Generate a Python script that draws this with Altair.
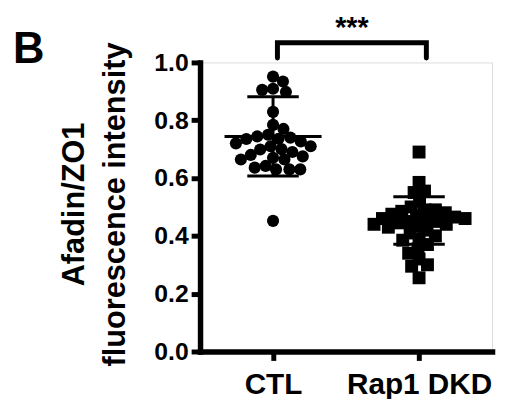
import altair as alt
import pandas as pd

# ---------------- data ----------------
categories = ["CTL", "Rap1 DKD"]
ctl_values = [0.951, 0.934, 0.909, 0.905, 0.898, 0.829, 0.784, 0.770, 0.750,
              0.744, 0.740, 0.736, 0.735, 0.727, 0.720, 0.710, 0.710, 0.700,
              0.699, 0.690, 0.680, 0.675, 0.670, 0.664, 0.664, 0.642, 0.636,
              0.630, 0.630, 0.630, 0.452]
dkd_values = [0.690, 0.585, 0.555, 0.550, 0.520, 0.500, 0.490, 0.490, 0.485,
              0.480, 0.475, 0.470, 0.465, 0.460, 0.460, 0.455, 0.450, 0.450,
              0.445, 0.440, 0.440, 0.435, 0.430, 0.420, 0.410, 0.400, 0.390,
              0.385, 0.370, 0.355, 0.340, 0.320, 0.300, 0.295, 0.255]
group_means = [0.744, 0.453]
group_sds = [0.137, 0.082]
y_ticks = [0.0, 0.2, 0.4, 0.6, 0.8, 1.0]
y_title = ["Afadin/ZO1", "fluorescence intensity"]
signif = "***"
panel = "B"

# ---------------- layout ----------------
W, H = 295, 292
X_DOMAIN = [0, 2]
PX_X = W / (X_DOMAIN[1] - X_DOMAIN[0])
PX_Y = H / 1.0
centers = [0.5, 1.5]


def swarm(values, diameter, overlap=0.78):
    """Deterministic beeswarm offsets (in x data units)."""
    order = sorted(range(len(values)), key=lambda i: -values[i])
    placed = []
    offs = [0.0] * len(values)
    md2 = (diameter * overlap) ** 2
    for i in order:
        yp = values[i] * PX_Y
        best = None
        k = 0
        while best is None:
            cands = [0.0] if k == 0 else [k * 0.5, -k * 0.5]
            for c in cands:
                if all((c - px) ** 2 + (yp - py) ** 2 >= md2 for px, py in placed):
                    best = c
                    break
            k += 1
        placed.append((best, yp))
        offs[i] = best / PX_X
    return offs


rows = []
for ci, (vals, d) in enumerate([(ctl_values, 14), (dkd_values, 13)]):
    for v, o in zip(vals, swarm(vals, d)):
        rows.append({"group": categories[ci], "x": centers[ci] + o, "value": v})
points = pd.DataFrame(rows)

MEAN_HALF = 49 / PX_X
CAP_HALF = 26 / PX_X
stats = pd.DataFrame({
    "group": categories,
    "c": centers,
    "mean": group_means,
    "lo": [m - s for m, s in zip(group_means, group_sds)],
    "hi": [m + s for m, s in zip(group_means, group_sds)],
})
stats["ml"] = stats["c"] - MEAN_HALF
stats["mr"] = stats["c"] + MEAN_HALF
stats["cl"] = stats["c"] - CAP_HALF
stats["cr"] = stats["c"] + CAP_HALF

FONT = "Liberation Sans"
label_expr = " : ".join(
    [f"datum.value == {c} ? '{n}'" for c, n in zip(centers[:-1], categories[:-1])]
    + [f"'{categories[-1]}'"]
)

xscale = alt.Scale(domain=X_DOMAIN, nice=False, zero=False)
yscale = alt.Scale(domain=[0, 1], nice=False)

x_axis = alt.Axis(values=centers, labelExpr=label_expr, title=None, grid=False,
                  labelFont=FONT, labelFontSize=30, labelFontWeight="bold",
                  labelColor="black", labelPadding=9, tickSize=9, tickWidth=5,
                  tickColor="black", domainColor="black", domainWidth=5.5,
                  domainCap="square", labelFlush=False, labelOverlap=False)
y_axis = alt.Axis(values=y_ticks, format=".1f", title=y_title, grid=False,
                  labelFont=FONT, labelFontSize=25, labelFontWeight="bold",
                  labelColor="black", labelPadding=3, tickSize=9, tickWidth=5,
                  tickColor="black", domainColor="black", domainWidth=5.5,
                  domainCap="square", labelFlush=False, labelOverlap=False,
                  titleFont=FONT, titleFontSize=31, titleFontWeight="bold",
                  titleColor="black", titleLineHeight=42, titleAngle=270,
                  titleAlign="center", titleBaseline="bottom",
                  titleX=-111, titleY=143)

base_pts = alt.Chart(points).encode(
    x=alt.X("x:Q", scale=xscale, axis=x_axis),
    y=alt.Y("value:Q", scale=yscale, axis=y_axis),
)
ctl_pts = base_pts.transform_filter(alt.datum.group == categories[0]).mark_point(
    shape="circle", filled=True, size=150, color="black", opacity=1)
dkd_pts = base_pts.transform_filter(alt.datum.group == categories[1]).mark_point(
    shape="square", filled=True, size=170, color="black", opacity=1)

sb = alt.Chart(stats)
mean_rule = sb.mark_rule(color="black", strokeWidth=3).encode(
    x=alt.X("ml:Q", scale=xscale), x2="mr:Q", y=alt.Y("mean:Q", scale=yscale))
sd_rule = sb.mark_rule(color="black", strokeWidth=3).encode(
    x=alt.X("c:Q", scale=xscale), y=alt.Y("lo:Q", scale=yscale), y2="hi:Q")
cap_hi = sb.mark_rule(color="black", strokeWidth=3).encode(
    x=alt.X("cl:Q", scale=xscale), x2="cr:Q", y=alt.Y("hi:Q", scale=yscale))
cap_lo = sb.mark_rule(color="black", strokeWidth=3).encode(
    x=alt.X("cl:Q", scale=xscale), x2="cr:Q", y=alt.Y("lo:Q", scale=yscale))

# significance bracket between the two groups
BR_TOP, BR_END = 1.068, 1.015
bracket = pd.DataFrame({
    "x": [centers[0] + 0.03, centers[0] + 0.03, centers[1] + 0.05, centers[1] + 0.05],
    "y": [BR_END, BR_TOP, BR_TOP, BR_END],
    "o": [0, 1, 2, 3],
})
bracket_line = alt.Chart(bracket).mark_line(
    color="black", strokeWidth=5, strokeCap="round", strokeJoin="miter").encode(
    x=alt.X("x:Q", scale=xscale), y=alt.Y("y:Q", scale=yscale), order="o:Q")
star = alt.Chart(pd.DataFrame({"x": [sum(centers) / 2 + 0.04], "y": [1.088], "t": [signif]})).mark_text(
    font=FONT, fontSize=29, fontWeight="bold", color="black", baseline="alphabetic").encode(
    x=alt.X("x:Q", scale=xscale), y=alt.Y("y:Q", scale=yscale), text="t:N")
letter = alt.Chart(pd.DataFrame({"t": [panel]})).mark_text(
    font=FONT, fontSize=44, fontWeight="bold", color="black", align="left",
    baseline="alphabetic").encode(x=alt.value(-189), y=alt.value(1), text="t:N")

chart = alt.layer(
    mean_rule, sd_rule, cap_hi, cap_lo, ctl_pts, dkd_pts, bracket_line, star, letter
).properties(
    width=W, height=H,
    autosize=alt.AutoSizeParams(type="none"),
    padding={"left": 194, "top": 53, "right": 6, "bottom": 46},
).configure_view(stroke=None).configure(background="white")

chart.save("out.html", embed_options={"renderer": "svg", "actions": False})
